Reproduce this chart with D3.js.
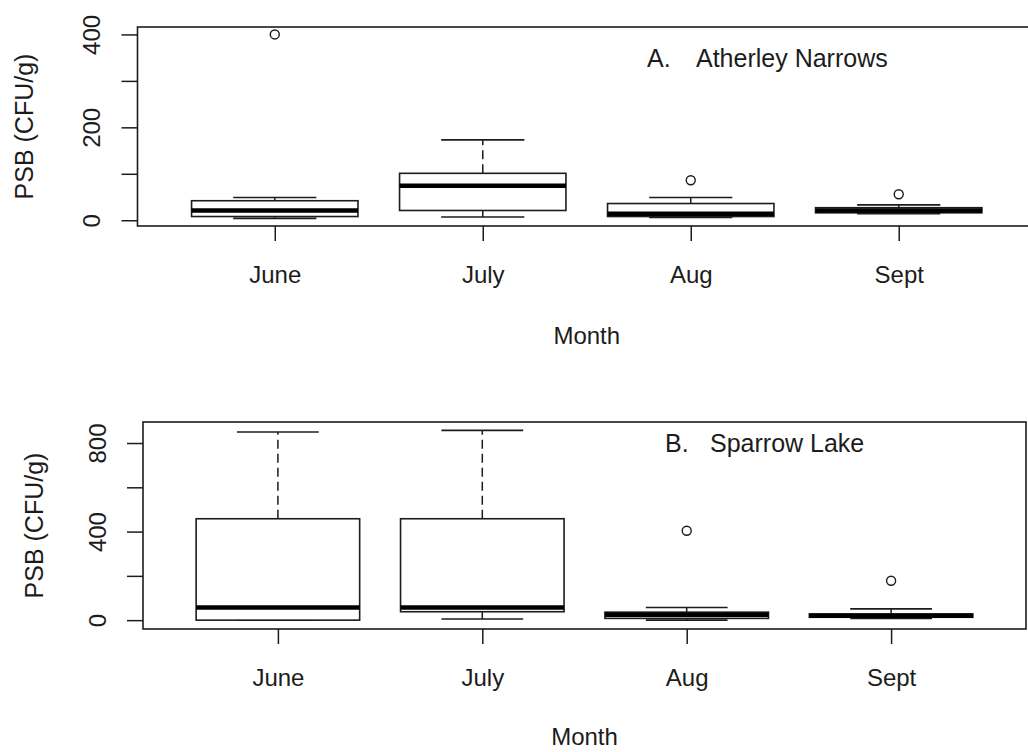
<!DOCTYPE html>
<html>
<head>
<meta charset="utf-8">
<script src="https://cdn.jsdelivr.net/npm/d3@7"></script>
<style>
  html, body { margin: 0; padding: 0; background: #fff; }
  svg { display: block; font-family: "Liberation Sans", Arial, sans-serif; }
</style>
</head>
<body>
<svg id="chart" width="1028" height="752"></svg>
<script>
// Months on the x axis
const months = ["June", "July", "Aug", "Sept"];

// A. Atherley Narrows: five-number summaries per month (CFU/g)
const atherleyLow    = [4, 7, 6, 14];
const atherleyQ1     = [8, 21, 8, 16];
const atherleyMedian = [21, 74, 14, 21];
const atherleyQ3     = [42, 101, 36, 27];
const atherleyHigh   = [49, 173, 49, 33];
const atherleyOut    = [[400], [], [86], [56]];

// B. Sparrow Lake: five-number summaries per month (CFU/g)
const sparrowLow    = [0, 5, 0, 8];
const sparrowQ1     = [0, 38, 8, 13];
const sparrowMedian = [57, 57, 24, 20];
const sparrowQ3     = [458, 458, 36, 28];
const sparrowHigh   = [850, 857, 57, 51];
const sparrowOut    = [[], [], [404], [178]];

// Axis ticks and which of them carry a label
const atherleyTicks  = [0, 100, 200, 300, 400];
const atherleyLabels = [0, 200, 400];
const sparrowTicks   = [0, 200, 400, 600, 800];
const sparrowLabels  = [0, 400, 800];

const yTitle = "PSB (CFU/g)";
const xTitle = "Month";

const ink = "#1c1c1c";
const svg = d3.select("#chart");

function buildRows(low, q1, med, q3, high, out) {
  return months.map((m, i) => ({
    idx: i + 1, low: low[i], q1: q1[i], med: med[i], q3: q3[i], high: high[i], out: out[i]
  }));
}

function drawPanel(cfg) {
  const { rows, x, y, ticks, labels, letter, site, letterX, siteX, noteY,
          yLabelOffset, yTitleX, tickLabelDy, titleY } = cfg;
  const g = svg.append("g");
  const [x0, x1] = x.range();
  const [yb, yt] = y.range();
  const boxW = (x(2) - x(1)) * 0.8;
  const capW = boxW * 0.5;

  // boxes
  const box = g.selectAll("g.box").data(rows).join("g").attr("class", "box");

  // dashed whiskers
  box.append("line")
    .attr("x1", d => x(d.idx)).attr("x2", d => x(d.idx))
    .attr("y1", d => y(d.q3)).attr("y2", d => y(d.high))
    .attr("stroke", ink).attr("stroke-width", 1.5).attr("stroke-dasharray", "9,5");
  box.append("line")
    .attr("x1", d => x(d.idx)).attr("x2", d => x(d.idx))
    .attr("y1", d => y(d.q1)).attr("y2", d => y(d.low))
    .attr("stroke", ink).attr("stroke-width", 1.5).attr("stroke-dasharray", "9,5");

  // whisker caps
  box.append("line")
    .attr("x1", d => x(d.idx) - capW / 2).attr("x2", d => x(d.idx) + capW / 2)
    .attr("y1", d => y(d.high)).attr("y2", d => y(d.high))
    .attr("stroke", ink).attr("stroke-width", 1.6);
  box.append("line")
    .attr("x1", d => x(d.idx) - capW / 2).attr("x2", d => x(d.idx) + capW / 2)
    .attr("y1", d => y(d.low)).attr("y2", d => y(d.low))
    .attr("stroke", ink).attr("stroke-width", 1.6);

  // interquartile box
  box.append("rect")
    .attr("x", d => x(d.idx) - boxW / 2)
    .attr("y", d => y(d.q3))
    .attr("width", boxW)
    .attr("height", d => Math.max(0, y(d.q1) - y(d.q3)))
    .attr("fill", "#fff").attr("stroke", ink).attr("stroke-width", 1.6);

  // median
  box.append("line")
    .attr("x1", d => x(d.idx) - boxW / 2).attr("x2", d => x(d.idx) + boxW / 2)
    .attr("y1", d => y(d.med)).attr("y2", d => y(d.med))
    .attr("stroke", "#000").attr("stroke-width", 4.5);

  // outliers
  box.selectAll("circle").data(d => d.out.map(v => ({ idx: d.idx, v })))
    .join("circle")
    .attr("cx", d => x(d.idx)).attr("cy", d => y(d.v)).attr("r", 4.5)
    .attr("fill", "none").attr("stroke", ink).attr("stroke-width", 1.4);

  // plot frame
  g.append("rect")
    .attr("x", x0).attr("y", yt).attr("width", x1 - x0).attr("height", yb - yt)
    .attr("fill", "none").attr("stroke", ink).attr("stroke-width", 1.6);

  // y axis
  const ya = g.append("g").attr("transform", `translate(${x0},0)`)
    .call(d3.axisLeft(y).tickValues(ticks).tickSize(16).tickSizeOuter(0)
      .tickFormat(d => labels.includes(d) ? d : ""));
  ya.select(".domain").remove();
  ya.selectAll(".tick line").attr("stroke", ink).attr("stroke-width", 1.5);
  ya.selectAll(".tick text")
    .attr("transform", "rotate(-90)")
    .attr("x", 0).attr("y", -yLabelOffset).attr("dy", 0)
    .attr("text-anchor", "middle")
    .attr("fill", ink).style("font-size", "24px");

  // x axis
  const xa = g.append("g").attr("transform", `translate(0,${yb})`)
    .call(d3.axisBottom(x).tickValues(months.map((m, i) => i + 1)).tickSize(15).tickSizeOuter(0)
      .tickFormat(i => months[i - 1]));
  xa.select(".domain").remove();
  xa.selectAll(".tick line").attr("stroke", ink).attr("stroke-width", 1.5);
  xa.selectAll(".tick text")
    .attr("y", tickLabelDy).attr("dy", 0)
    .attr("fill", ink).style("font-size", "24px");

  // axis titles
  g.append("text")
    .attr("transform", `translate(${yTitleX},${(yt + yb) / 2}) rotate(-90)`)
    .attr("text-anchor", "middle").attr("fill", ink).style("font-size", "25px")
    .text(yTitle);
  g.append("text")
    .attr("x", (x0 + x1) / 2).attr("y", titleY)
    .attr("text-anchor", "middle").attr("fill", ink).style("font-size", "24px")
    .text(xTitle);

  // panel note
  g.append("text").attr("x", letterX).attr("y", noteY)
    .attr("fill", ink).style("font-size", "25px").text(letter);
  g.append("text").attr("x", siteX).attr("y", noteY)
    .attr("fill", ink).style("font-size", "25px").text(site);
}

drawPanel({
  rows: buildRows(atherleyLow, atherleyQ1, atherleyMedian, atherleyQ3, atherleyHigh, atherleyOut),
  x: d3.scaleLinear().domain([0.34, 4.66]).range([137.5, 1036]),
  y: d3.scaleLinear().domain([-12.4, 416]).range([226, 27]),
  ticks: atherleyTicks, labels: atherleyLabels,
  letter: "A.", site: "Atherley Narrows", letterX: 647, siteX: 696, noteY: 67,
  yLabelOffset: 38, yTitleX: 33, tickLabelDy: 57, titleY: 344
});

drawPanel({
  rows: buildRows(sparrowLow, sparrowQ1, sparrowMedian, sparrowQ3, sparrowHigh, sparrowOut),
  x: d3.scaleLinear().domain([0.34, 4.66]).range([143, 1026]),
  y: d3.scaleLinear().domain([-40, 895]).range([629, 422]),
  ticks: sparrowTicks, labels: sparrowLabels,
  letter: "B.", site: "Sparrow Lake", letterX: 665, siteX: 710, noteY: 452,
  yLabelOffset: 37, yTitleX: 43, tickLabelDy: 57, titleY: 745
});
</script>
</body>
</html>
